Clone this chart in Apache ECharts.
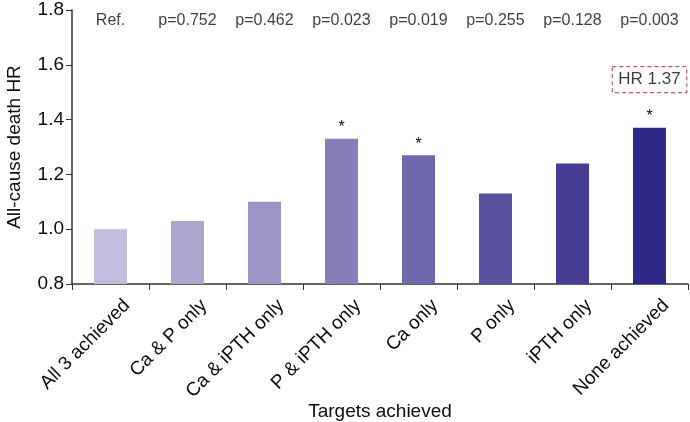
<!DOCTYPE html>
<html>
<head>
<meta charset="utf-8">
<script src="https://cdn.jsdelivr.net/npm/echarts@6/dist/echarts.min.js"></script>
<style>
  html, body { margin: 0; padding: 0; background: #fff; }
  #chart { width: 690px; height: 422px; }
</style>
</head>
<body>
<div id="chart"></div>
<script>
// 数据
const categories = ["All 3 achieved", "Ca & P only", "Ca & iPTH only", "P & iPTH only", "Ca only", "P only", "iPTH only", "None achieved"];
const hrValues = [1.0, 1.03, 1.10, 1.33, 1.27, 1.13, 1.24, 1.37];
const pLabels = ["Ref.", "p=0.752", "p=0.462", "p=0.023", "p=0.019", "p=0.255", "p=0.128", "p=0.003"];
const significant = [false, false, false, true, true, false, false, true];
const barColors = ["#c1bedd", "#aba7cf", "#9a95c5", "#867fb9", "#6f68ad", "#5a529f", "#453e93", "#2f2886"];
const yTicks = [0.8, 1.0, 1.2, 1.4, 1.6, 1.8];

const FONT = "Liberation Sans";
const TEXT = "#0d0d0d";

const chart = echarts.init(document.getElementById("chart"));

const option = {
	animation: false,
	grid: { left: 72, right: 2, top: 10, bottom: 138, outerBoundsMode: "none", containLabel: false },
	xAxis: {
		type: "category",
		data: categories,
		name: "Targets achieved",
		nameLocation: "middle",
		nameGap: 118,
		nameMoveOverlap: false,
		nameTextStyle: { fontFamily: FONT, fontSize: 19, color: TEXT },
		axisLine: { lineStyle: { color: "#333", width: 1.5 } },
		axisTick: { show: true, length: 6, lineStyle: { color: "#333" } },
		axisLabel: {
			rotate: 45,
			interval: 0,
			margin: 2,
			// 标签整体往右下偏一点
			verticalAlign: "top",
			padding: [14, 0, 0, 0],
			fontFamily: FONT,
			fontSize: 19,
			color: TEXT
		}
	},
	yAxis: {
		type: "value",
		min: 0.8,
		max: 1.8,
		interval: 0.2,
		name: "All-cause death HR",
		nameLocation: "middle",
		nameGap: 48,
		nameMoveOverlap: false,
		nameTextStyle: { fontFamily: FONT, fontSize: 19, color: TEXT },
		splitLine: { show: false },
		axisLine: { show: true, lineStyle: { color: "#333", width: 1.5 } },
		axisTick: { show: true, length: 6, lineStyle: { color: "#333" } },
		axisLabel: {
			fontFamily: FONT,
			fontSize: 19,
			color: TEXT,
			margin: 8,
			formatter: (v) => (yTicks.some((t) => Math.abs(t - v) < 1e-6) ? v.toFixed(1) : "")
		}
	},
	series: [
		{
			type: "bar",
			barWidth: 33,
			data: hrValues.map((v, i) => ({ value: v, itemStyle: { color: barColors[i] } })),
			label: {
				show: true,
				position: "top",
				distance: 3,
				fontFamily: FONT,
				fontSize: 16,
				color: TEXT,
				formatter: (p) => (significant[p.dataIndex] ? "*" : "")
			}
		},
		{
			// p 值文字
			type: "scatter",
			symbolSize: 0,
			silent: true,
			data: pLabels.map(() => 1.763),
			label: {
				show: true,
				position: "inside",
				fontFamily: FONT,
				fontSize: 16,
				color: TEXT,
				formatter: (p) => pLabels[p.dataIndex]
			}
		},
		{
			// HR 1.37 虚线框
			type: "scatter",
			symbolSize: 0,
			silent: true,
			data: [[7, 1.546]],
			label: {
				show: true,
				position: "inside",
				formatter: "HR " + hrValues[7].toFixed(2),
				fontFamily: FONT,
				fontSize: 17,
				color: TEXT,
				borderColor: "#b83232",
				borderWidth: 1.2,
				borderType: [4, 3],
				padding: [5, 6, 4, 6]
			}
		}
	]
};

chart.setOption(option);
</script>
</body>
</html>
